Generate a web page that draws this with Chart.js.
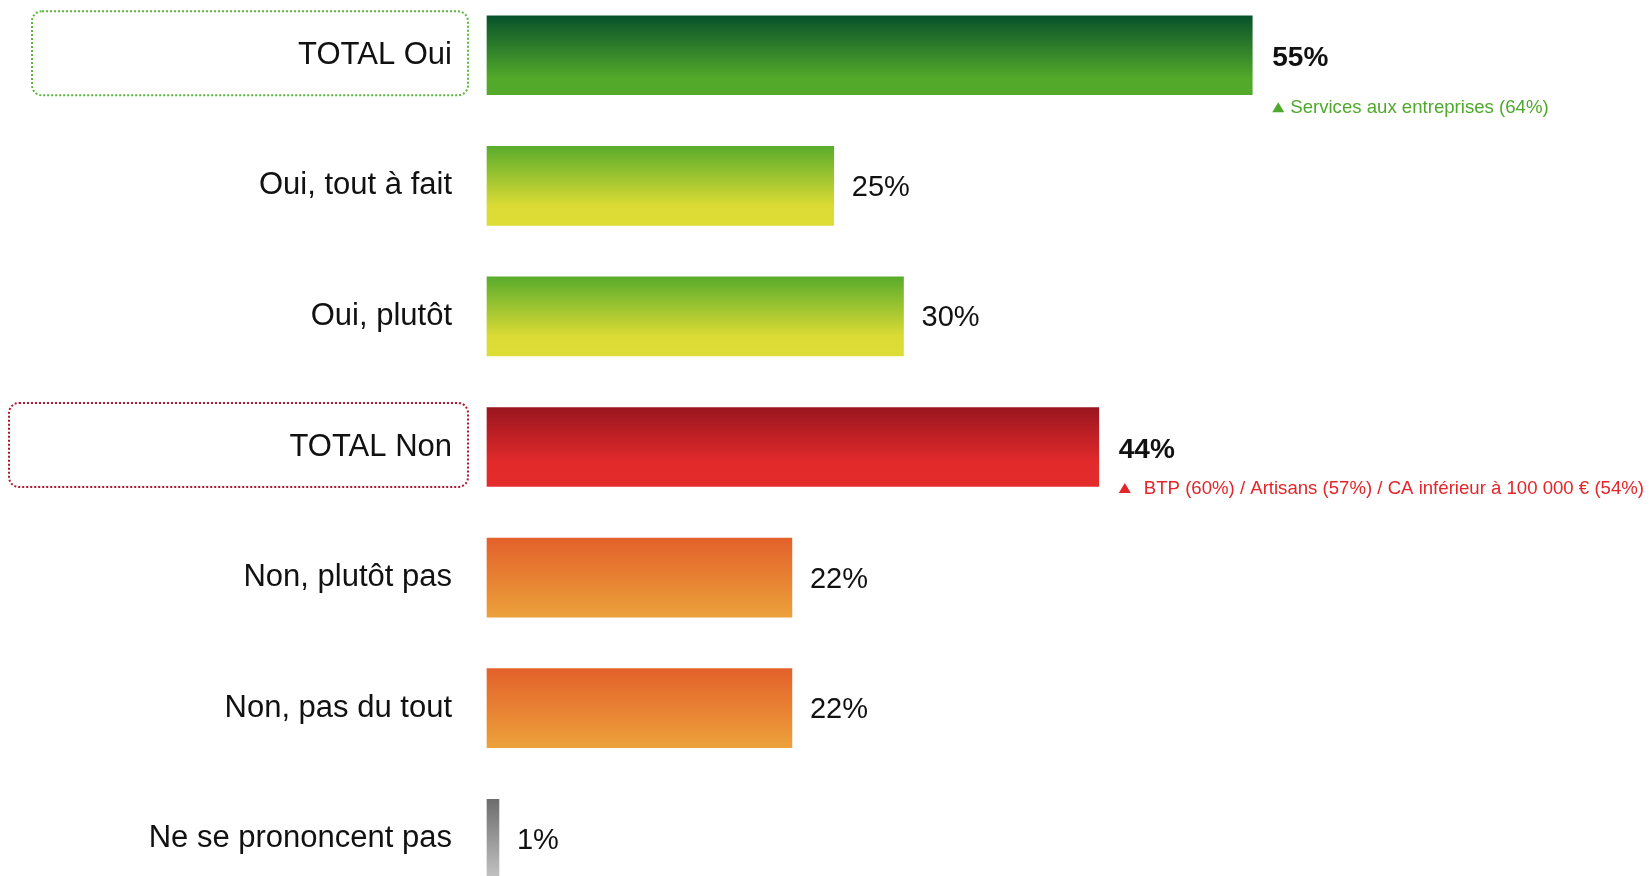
<!DOCTYPE html>
<html lang="fr">
<head>
<meta charset="utf-8">
<title>Oui / Non</title>
<script src="https://cdn.jsdelivr.net/npm/chart.js@4"></script>
<style>
  html, body { margin: 0; padding: 0; background: #fff; overflow: hidden; }
  #wrap { position: relative; width: 1650px; height: 876px; overflow: hidden; }
  #chart { position: absolute; left: 0; top: -10px; }
</style>
</head>
<body>
<div id="wrap">
  <canvas id="chart" width="1650" height="914"></canvas>
</div>
<script>
const categories = [
  "TOTAL Oui",
  "Oui, tout à fait",
  "Oui, plutôt",
  "TOTAL Non",
  "Non, plutôt pas",
  "Non, pas du tout",
  "Ne se prononcent pas"
]
const values = [55, 25, 30, 44, 22, 22, 1]
const totalRows = [0, 3]
const noteTexts = {
  0: "Services aux entreprises (64%)",
  3: "BTP (60%) / Artisans (57%) / CA inférieur à 100 000 € (54%)"
}

const FONT = "'Liberation Sans', Arial, Helvetica, sans-serif"
const BAR_H = 81

// gradient stops for each row, top to bottom
const gradients = [
  [[0, "#07502a"], [0.78, "#52a92a"], [1, "#52a92a"]],
  [[0, "#58ab2c"], [0.75, "#dcdb35"], [1, "#dedd36"]],
  [[0, "#58ab2c"], [0.75, "#dcdb35"], [1, "#dedd36"]],
  [[0, "#99151f"], [0.7, "#e32a2b"], [1, "#e52c2c"]],
  [[0, "#e3602a"], [1, "#eca23b"]],
  [[0, "#e3602a"], [1, "#eca23b"]],
  [[0, "#6c6c6c"], [1, "#c4c4c4"]]
]

const boxStyles = {
  0: { left: 32, color: "#5cb63c" },
  3: { left: 9, color: "#b0182e" }
}
const noteStyles = {
  0: { color: "#4ea82c", dy: 52, gap: 18 },
  3: { color: "#e4252a", dy: 41, gap: 25 }
}

function barGradient(ctx) {
  const chart = ctx.chart
  const yScale = chart.scales.y
  const i = ctx.dataIndex
  if (!yScale || i === undefined) return "#888"
  const yc = yScale.getPixelForValue(i)
  // scales are not laid out yet on the very first pass
  if (!isFinite(yc)) return gradients[i][0][1]
  const g = chart.ctx.createLinearGradient(0, yc - BAR_H / 2, 0, yc + BAR_H / 2)
  gradients[i].forEach(([p, c]) => g.addColorStop(p, c))
  return g
}

function roundRect(c, x, y, w, h, r) {
  c.beginPath()
  c.moveTo(x + r, y)
  c.lineTo(x + w - r, y)
  c.arcTo(x + w, y, x + w, y + r, r)
  c.lineTo(x + w, y + h - r)
  c.arcTo(x + w, y + h, x + w - r, y + h, r)
  c.lineTo(x + r, y + h)
  c.arcTo(x, y + h, x, y + h - r, r)
  c.lineTo(x, y + r)
  c.arcTo(x, y, x + r, y, r)
  c.closePath()
}

// dotted frames around the two total labels
const totalBoxes = {
  id: "totalBoxes",
  afterDraw(chart) {
    const c = chart.ctx
    const yScale = chart.scales.y
    c.save()
    c.lineWidth = 2
    c.setLineDash([2, 2])
    totalRows.forEach(i => {
      const st = boxStyles[i]
      const yc = yScale.getPixelForValue(i)
      c.strokeStyle = st.color
      roundRect(c, st.left, yc - 44, 468 - st.left, 84, 10)
      c.stroke()
    })
    c.restore()
  }
}

// percentages at the end of each bar + sub-group notes
const valueLabels = {
  id: "valueLabels",
  afterDatasetsDraw(chart) {
    const c = chart.ctx
    const meta = chart.getDatasetMeta(0)
    c.save()
    c.textBaseline = "middle"
    c.textAlign = "left"
    meta.data.forEach((bar, i) => {
      const isTotal = totalRows.includes(i)
      c.fillStyle = "#111"
      c.font = (isTotal ? "bold 28px " : "29px ") + FONT
      c.fillText(values[i] + "%", bar.x + (isTotal ? 19 : 17), bar.y + (isTotal ? 3 : 2))

      if (noteTexts[i]) {
        const st = noteStyles[i]
        const ny = bar.y + st.dy
        const tx = bar.x + 19
        c.fillStyle = st.color
        c.beginPath()
        c.moveTo(tx, ny + 5)
        c.lineTo(tx + 12, ny + 5)
        c.lineTo(tx + 6, ny - 5)
        c.closePath()
        c.fill()
        c.font = "18.6px " + FONT
        c.fillText(noteTexts[i], tx + st.gap, ny + 1)
      }
    })
    c.restore()
  }
}

new Chart(document.getElementById("chart"), {
  type: "bar",
  data: {
    labels: categories,
    datasets: [{
      data: values,
      backgroundColor: barGradient,
      borderColor: "rgba(255,255,255,0.45)",
      borderWidth: 1,
      borderSkipped: false,
      barThickness: BAR_H
    }]
  },
  options: {
    indexAxis: "y",
    responsive: false,
    devicePixelRatio: 1,
    animation: false,
    layout: { padding: { top: 0, bottom: 0, left: 0, right: 48 } },
    scales: {
      x: { display: false, min: 0, max: 80 },
      y: {
        grid: { display: false, drawTicks: false },
        border: { display: false },
        ticks: {
          color: "#111",
          padding: 34,
          font: { family: FONT, size: 31 }
        },
        afterFit(scale) {
          scale.width = 486
          // rows use the full canvas height
          scale.paddingTop = 0
          scale.paddingBottom = 0
        }
      }
    },
    plugins: {
      legend: { display: false },
      tooltip: { enabled: false },
      title: { display: false }
    }
  },
  plugins: [totalBoxes, valueLabels]
})
</script>
</body>
</html>
